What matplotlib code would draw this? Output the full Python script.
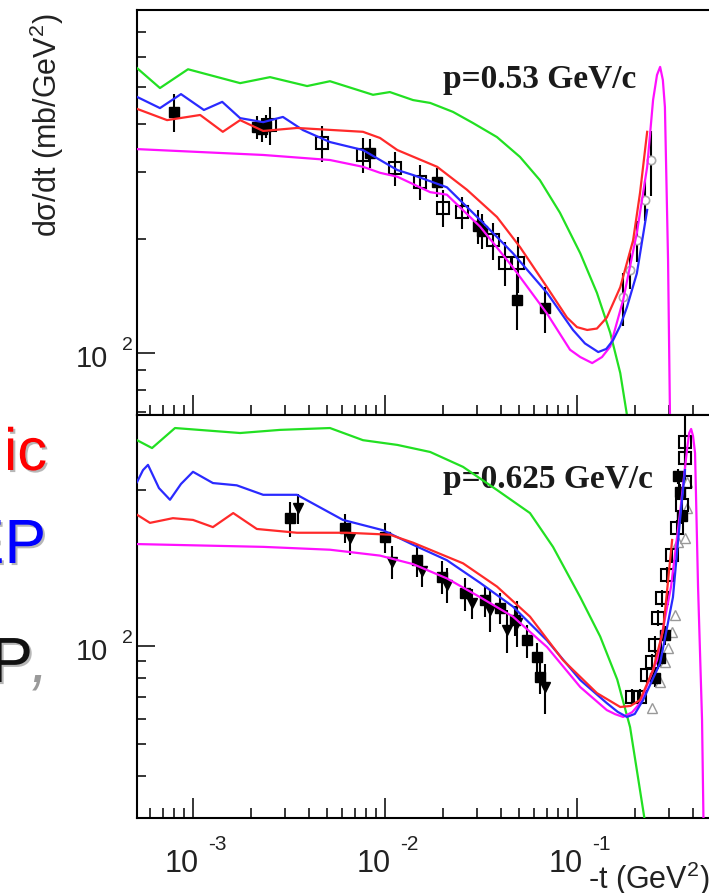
import matplotlib
matplotlib.use("Agg")
import matplotlib.pyplot as plt
import matplotlib.patheffects as pe
from matplotlib.ticker import FixedLocator, NullFormatter

plt.rcParams['font.family'] = ['Liberation Sans', 'DejaVu Sans']
plt.rcParams['mathtext.default'] = 'regular'

# -t in GeV^2, dsigma/dt in mb/GeV^2

# p = 0.53 GeV/c, model curves
green53_t = [5.11e-4, 6.73e-4, 9.42e-4, 1.76e-3, 2.52e-3, 3.93e-3, 5.17e-3, 8.66e-3, 1.06e-2, 1.40e-2, 1.72e-2,
             2.26e-2, 2.87e-2, 3.83e-2, 5.05e-2, 6.41e-2, 8.15e-2, 0.104, 0.127, 0.149, 0.168, 0.190]
green53_s = [562, 498, 558, 513, 532, 504, 519, 478, 486, 463, 455,
             431, 403, 370, 328, 285, 234, 183, 144, 113, 88.6, 60]
blue53_t = [5.11e-4, 6.73e-4, 8.66e-4, 1.14e-3, 1.42e-3, 1.76e-3, 2.32e-3, 2.94e-3, 3.74e-3, 5.17e-3, 7.68e-3,
            1.16e-2, 1.40e-2, 2.10e-2, 3.13e-2, 4.64e-2, 6.98e-2, 9.53e-2, 0.110, 0.129, 0.142, 0.154, 0.168,
            0.182, 0.205, 0.232]
blue53_s = [472, 441, 480, 436, 458, 415, 405, 418, 386, 359, 342,
            303, 294, 273, 224, 183, 144, 115, 106, 100.6, 102.5, 108, 118,
            132, 162, 238]
red53_t = [5.11e-4, 7.33e-4, 1.09e-3, 1.43e-3, 1.76e-3, 2.32e-3, 3.48e-3, 7.68e-3, 9.42e-3, 1.16e-2, 1.87e-2,
           2.67e-2, 3.83e-2, 5.05e-2, 6.98e-2, 8.87e-2, 0.100, 0.113, 0.127, 0.143, 0.168, 0.196, 0.213, 0.232]
red53_s = [439, 410, 423, 382, 410, 384, 391, 382, 368, 342, 309,
           269, 228, 190, 149, 124, 117, 115, 116, 124, 149, 198, 264, 382]
magenta53_t = [5.11e-4, 2.32e-3, 5.17e-3, 7.68e-3, 9.42e-3, 1.16e-2, 1.72e-2, 2.10e-2, 3.13e-2, 4.64e-2, 6.98e-2,
               9.20e-2, 0.104, 0.120, 0.135, 0.149, 0.174, 0.205, 0.232, 0.249, 0.261, 0.271, 0.280, 0.287,
               0.298, 0.309]
magenta53_s = [344, 332, 322, 309, 298, 291, 265, 261, 215, 168, 127,
               102, 97.6, 94.1, 97.6, 104, 138, 207, 309, 463, 539, 566, 523, 444,
               176, 40]

# p = 0.53 GeV/c, measurements
fsq53_t = [7.96e-4, 2.15e-3, 2.29e-3, 2.40e-3, 8.35e-3, 1.87e-2, 3.06e-2, 3.20e-2, 4.87e-2, 6.81e-2]
fsq53_s = [431, 393, 388, 396, 336, 282, 216, 210, 138, 131]
fsq53_e = [50, 28, 28, 28, 30, 25, 22, 22, 23, 18]
osq53_t = [2.52e-3, 4.70e-3, 7.68e-3, 1.13e-2, 1.52e-2, 2.01e-2, 2.52e-2, 3.65e-2, 4.22e-2, 4.95e-2]
osq53_s = [398, 357, 332, 307, 282, 241, 235, 198, 173, 173]
osq53_e = [45, 38, 35, 32, 30, 27, 23, 22, 23, 29]
oci53_t = [0.174, 0.189, 0.205, 0.226, 0.243]
oci53_s = [140, 165, 198, 253, 322]
oci53_e = [22, 18, 24, 30, 63]

# p = 0.625 GeV/c, model curves
green625_t = [5.11e-4, 6.12e-4, 8.06e-4, 1.76e-3, 2.84e-3, 5.17e-3, 7.68e-3, 1.16e-2, 1.72e-2, 2.55e-2,
              3.83e-2, 5.69e-2, 7.50e-2, 0.104, 0.132, 0.162, 0.189, 0.226]
green625_s = [426, 403, 464, 448, 458, 464, 426, 412, 392, 353,
              300, 255, 201, 141, 107, 79, 56.5, 29]
blue625_t = [5.11e-4, 5.49e-4, 5.83e-4, 6.65e-4, 7.59e-4, 8.66e-4, 1.0e-3, 1.27e-3, 1.69e-3, 2.32e-3, 3.48e-3,
             6.04e-3, 9.76e-3, 1.40e-2, 2.10e-2, 3.13e-2, 4.64e-2, 6.98e-2, 0.104, 0.143, 0.163, 0.182, 0.200,
             0.221, 0.271, 0.316, 0.344, 0.365]
blue625_s = [317, 345, 358, 304, 280, 313, 341, 315, 310, 290, 290,
             243, 226, 204, 183, 156, 132, 104, 78.7, 66.9, 62.9, 60.7, 62,
             68.4, 88.7, 141, 243, 345]
red625_t = [5.11e-4, 5.97e-4, 7.86e-4, 1.0e-3, 1.27e-3, 1.62e-3, 2.15e-3, 3.48e-3, 6.34e-3, 1.06e-2, 1.40e-2,
            2.55e-2, 3.83e-2, 5.69e-2, 8.45e-2, 0.127, 0.168, 0.190, 0.213, 0.249, 0.281, 0.313]
red625_s = [252, 238, 246, 243, 231, 255, 228, 222, 222, 219, 207,
            179, 152, 123, 90.6, 71.8, 65.1, 65.6, 68.4, 84.5, 112, 211]
magenta625_t = [5.11e-4, 2.32e-3, 5.17e-3, 9.42e-3, 1.40e-2, 2.10e-2, 3.13e-2, 4.64e-2, 6.98e-2, 0.104, 0.143,
                0.158, 0.174, 0.194, 0.213, 0.261, 0.309, 0.344, 0.374, 0.384, 0.393, 0.402, 0.412, 0.427,
                0.448, 0.460]
magenta625_s = [205, 201, 197, 189, 178, 161, 141, 123, 99.3, 74.9, 63.7,
                61.9, 60.7, 62.8, 66.9, 90.6, 152, 255, 398, 448, 461, 439, 389, 152,
                59.4, 20]

# p = 0.625 GeV/c, measurements
fsq625_t = [3.20e-3, 6.19e-3, 1.0e-2, 1.47e-2, 1.98e-2, 2.61e-2, 3.32e-2, 3.97e-2, 4.75e-2, 5.49e-2, 6.19e-2, 6.41e-2,
            0.256, 0.270, 0.287, 0.336, 0.344, 0.352]
fsq625_s = [246, 230, 215, 183, 163, 145, 138, 131, 120, 104, 92.5, 80.4,
            80, 92, 108, 330, 296, 250]
fsq625_e = [30, 24, 22, 20, 19, 17, 15, 14, 13, 12, 10, 9,
            5, 6, 7, 18, 16, 14]
dtri625_t = [3.52e-3, 6.58e-3, 1.09e-2, 1.55e-2, 2.10e-2, 2.84e-2, 3.52e-2, 4.32e-2, 4.87e-2, 6.81e-2]
dtri625_s = [264, 214, 181, 169, 154, 135, 129, 112, 118, 74.9]
dtri625_e = [28, 24, 21, 18, 19, 14, 19, 17, 19, 13]
osq625_t = [0.193, 0.213, 0.232, 0.246, 0.255, 0.264, 0.277, 0.294, 0.313, 0.332, 0.352, 0.365, 0.365, 0.365]
osq625_s = [69.9, 69.8, 81.5, 89.3, 101, 122, 140, 165, 190, 230, 270, 317, 376, 421]
osq625_e = [4, 4, 5, 5, 6, 7, 8, 9, 10, 12, 14, 16, 18, 110]
otri625_t = [0.246, 0.271, 0.287, 0.298, 0.313, 0.324, 0.336, 0.365, 0.374, 0.374]
otri625_s = [64.6, 77.6, 89.3, 98.6, 110, 124, 208, 214, 264, 317]

x_major = [1e-3, 1e-2, 1e-1, 1.0]
x_minor = [m * 10.0 ** e for e in range(-4, 0) for m in range(2, 10)]
y_top_minor = [70, 80, 90, 200, 300, 400, 500, 600, 700]
y_bot_minor = [40, 50, 60, 70, 80, 90, 300]

W, H = 709.0, 893.0
fig = plt.figure(figsize=(W / 100, H / 100), dpi=100)
ax_top = fig.add_axes([137 / W, (H - 415) / H, 632 / W, 405 / H])
ax_bot = fig.add_axes([137 / W, (H - 818) / H, 632 / W, 403 / H])


def frame(ax, ylim, yminor):
    ax.set_xscale('log')
    ax.set_yscale('log')
    ax.set_xlim(5.11e-4, 1.0)
    ax.set_ylim(*ylim)
    ax.xaxis.set_major_locator(FixedLocator(x_major))
    ax.xaxis.set_minor_locator(FixedLocator(x_minor))
    ax.yaxis.set_major_locator(FixedLocator([100]))
    ax.yaxis.set_minor_locator(FixedLocator(yminor))
    for a in (ax.xaxis, ax.yaxis):
        a.set_major_formatter(NullFormatter())
        a.set_minor_formatter(NullFormatter())
    ax.tick_params(axis='x', which='major', direction='in', length=14.4, width=1.1, top=False)
    ax.tick_params(axis='x', which='minor', direction='in', length=7.2, width=1.1, top=False)
    ax.tick_params(axis='y', which='major', direction='in', length=13, width=1.1, right=False)
    ax.tick_params(axis='y', which='minor', direction='in', length=6.5, width=1.1, right=False)
    for s in ax.spines.values():
        s.set_linewidth(1.5)
    ax.spines['right'].set_visible(False)
    # ROOT style "10 ^2" label on the left axis
    ax.annotate('10', xy=(0, 100), xycoords=('axes fraction', 'data'), xytext=(-29, -14),
                textcoords='offset pixels', ha='right', va='baseline', fontsize=21, color='#222222')
    ax.annotate('2', xy=(0, 100), xycoords=('axes fraction', 'data'), xytext=(-15, 3),
                textcoords='offset pixels', ha='left', va='baseline', fontsize=14, color='#222222')


frame(ax_top, (68.7, 799), y_top_minor)
frame(ax_bot, (29.8, 508.6), y_bot_minor)

curve_kw = dict(lw=1.6, zorder=3, solid_joinstyle='round')
err_kw = dict(ecolor='k', elinewidth=1.5, capsize=0, zorder=2, ls='none')

# upper panel
ax_top.errorbar(fsq53_t, fsq53_s, yerr=fsq53_e, marker='s', ms=7, mfc='k', mec='k', **err_kw)
ax_top.errorbar(osq53_t, osq53_s, yerr=osq53_e, marker='s', ms=9, mfc='none', mec='k', mew=1.5, **err_kw)
ax_top.errorbar(oci53_t, oci53_s, yerr=oci53_e, marker='o', ms=6, mfc='white', mec='#aaaaaa', mew=1.2, **err_kw)
ax_top.plot(green53_t, green53_s, color='#22e022', **curve_kw)
ax_top.plot(magenta53_t, magenta53_s, color='#ff10ff', **curve_kw)
ax_top.plot(blue53_t, blue53_s, color='#2a2aff', **curve_kw)
ax_top.plot(red53_t, red53_s, color='#ff2a2a', **curve_kw)
ax_top.text((443 - 137) / 632, (415 - 88) / 405, 'p=0.53 GeV/c', transform=ax_top.transAxes,
            family='Liberation Serif', weight='bold', fontsize=24, va='baseline', color='#1a1a1a', zorder=1)

# lower panel
ax_bot.errorbar(fsq625_t, fsq625_s, yerr=fsq625_e, marker='s', ms=7, mfc='k', mec='k', **err_kw)
ax_bot.errorbar(dtri625_t, dtri625_s, yerr=dtri625_e, marker='v', ms=7, mfc='k', mec='k', **err_kw)
ax_bot.errorbar(osq625_t, osq625_s, yerr=osq625_e, marker='s', ms=8, mfc='none', mec='k', mew=1.5, **err_kw)
ax_bot.plot(otri625_t, otri625_s, ls='none', marker='^', ms=7, mfc='white', mec='#999999', mew=1.0, zorder=2)
ax_bot.plot(green625_t, green625_s, color='#22e022', **curve_kw)
ax_bot.plot(magenta625_t, magenta625_s, color='#ff10ff', **curve_kw)
ax_bot.plot(blue625_t, blue625_s, color='#2a2aff', **curve_kw)
ax_bot.plot(red625_t, red625_s, color='#ff2a2a', **curve_kw)
ax_bot.text((443 - 137) / 632, (818 - 488) / 403, 'p=0.625 GeV/c', transform=ax_bot.transAxes,
            family='Liberation Serif', weight='bold', fontsize=24, va='baseline', color='#1a1a1a', zorder=1)

# decade labels under the lower panel
for v, e in zip(x_major[:3], ['-3', '-2', '-1']):
    ax_bot.annotate('10', xy=(v, 0), xycoords=('data', 'axes fraction'), xytext=(6, -54),
                    textcoords='offset pixels', ha='right', va='baseline', fontsize=22, color='#222222')
    ax_bot.annotate(e, xy=(v, 0), xycoords=('data', 'axes fraction'), xytext=(15, -32),
                    textcoords='offset pixels', ha='left', va='baseline', fontsize=15, color='#222222')

fig.text(588 / W, (H - 889) / H, '-t (GeV$^2$)', fontsize=22, ha='left', va='baseline', color='#222222')
fig.text(47 / W, 1 - 125 / H, 'd\u03c3/dt (mb/GeV$^2$)', fontsize=22, rotation=90,
         ha='center', va='center', color='#222222')

# slide captions cut off at the left edge
shadow = [pe.SimplePatchShadow(offset=(1.5, -1.5), shadow_rgbFace='#b0b0b0', alpha=0.9), pe.Normal()]
fig.text(4 / W, (H - 470) / H, 'ic', fontsize=43, color='#ff0000', ha='left', va='baseline',
         path_effects=shadow)
fig.text(46 / W, (H - 563) / H, 'EP', fontsize=45, color='#0000ff', ha='right', va='baseline',
         path_effects=shadow)
fig.text(33 / W, (H - 682) / H, 'P', fontsize=46, color='#111111', ha='right', va='baseline',
         path_effects=shadow)
fig.text(31 / W, (H - 682) / H, ',', fontsize=46, color='#9a9a9a', ha='left', va='baseline',
         style='italic')

fig.savefig('out.png', dpi=100, facecolor='white')
